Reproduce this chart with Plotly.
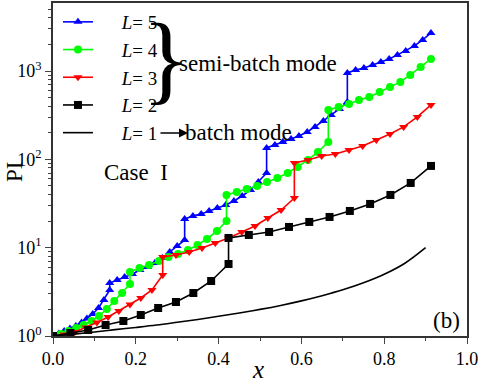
import plotly.graph_objects as go

# ---- data ----
x_L5 = [0, 0.014, 0.027, 0.041, 0.055, 0.069, 0.082, 0.096, 0.110, 0.123, 0.137,
        0.137, 0.155, 0.173, 0.192, 0.210, 0.228, 0.246, 0.264, 0.282, 0.300, 0.318,
        0.318, 0.338, 0.358, 0.377, 0.397, 0.417, 0.437, 0.457, 0.477, 0.496, 0.516,
        0.516, 0.536, 0.555, 0.575, 0.594, 0.614, 0.633, 0.653, 0.672, 0.692, 0.711,
        0.711, 0.731, 0.751, 0.772, 0.792, 0.812, 0.832, 0.852, 0.873, 0.893, 0.913]
y_L5 = [1.0, 1.067, 1.139, 1.216, 1.298, 1.422, 1.578, 1.775, 2.076, 2.56, 3.32,
        3.98, 4.31, 4.66, 5.04, 5.59, 6.05, 6.71, 7.65, 8.94, 10.45, 12.2,
        21.1, 22.9, 24.1, 26.0, 28.2, 30.5, 33.8, 38.5, 45.0, 55.5, 70.1,
        134.7, 145.6, 157.4, 170.0, 184.1, 204.3, 232.8, 272.2, 318.3, 372.2, 446.8,
        952, 1029, 1084, 1172, 1268, 1371, 1522, 1689, 1924, 2250, 2701]

x_L4 = [0, 0.019, 0.037, 0.056, 0.074, 0.093, 0.111, 0.130, 0.148, 0.167, 0.186,
        0.186, 0.209, 0.232, 0.256, 0.279, 0.302, 0.326, 0.349, 0.372, 0.396, 0.419,
        0.419, 0.444, 0.468, 0.493, 0.517, 0.542, 0.567, 0.591, 0.616, 0.640, 0.665,
        0.665, 0.690, 0.715, 0.739, 0.764, 0.789, 0.814, 0.839, 0.863, 0.888, 0.913]
y_L4 = [1.0, 1.053, 1.139, 1.232, 1.332, 1.479, 1.685, 2.022, 2.491, 3.069, 3.88,
        5.31, 5.89, 6.37, 7.07, 7.85, 8.49, 9.42, 10.73, 12.54, 15.46, 20.0,
        39.5, 42.7, 46.2, 50.0, 55.5, 61.6, 70.1, 82.0, 98.4, 121.2, 157.4,
        362.6, 392.1, 424.0, 470.7, 509.0, 580.0, 660.6, 752.7, 903.4, 1113, 1371]

x_L3 = [0, 0.0265, 0.053, 0.080, 0.106, 0.133, 0.159, 0.186, 0.212, 0.239, 0.265,
        0.265, 0.297, 0.329, 0.360, 0.392, 0.424, 0.456, 0.488, 0.519, 0.551, 0.583,
        0.583, 0.616, 0.649, 0.682, 0.715, 0.748, 0.781, 0.814, 0.847, 0.880, 0.913]
y_L3 = [1.0, 1.04, 1.11, 1.248, 1.422, 1.642, 1.919, 2.275, 2.694, 3.318, 4.907,
        7.85, 8.27, 8.94, 9.92, 11.3, 12.88, 15.06, 17.6, 21.7, 26.7, 36.5,
        91.0, 98.4, 109.3, 115.1, 127.8, 141.8, 165.9, 194.0, 232.8, 302.1, 413.1]

x_L2 = [0, 0.042, 0.085, 0.127, 0.170, 0.212, 0.254, 0.297, 0.339, 0.382, 0.424,
        0.424, 0.473, 0.522, 0.570, 0.619, 0.668, 0.717, 0.766, 0.815, 0.864, 0.913]
y_L2 = [1.0, 1.081, 1.169, 1.332, 1.479, 1.729, 2.076, 2.427, 3.069, 4.197, 6.538,
        12.88, 13.93, 15.06, 17.16, 19.55, 22.27, 26.04, 31.26, 39.52, 54.04, 84.2]

x_L1 = [0, 0.05, 0.10, 0.15, 0.20, 0.25, 0.30, 0.35, 0.40, 0.45,
        0.50, 0.55, 0.60, 0.65, 0.70, 0.75, 0.80, 0.85, 0.90]
y_L1 = [1.0, 1.05, 1.11, 1.18, 1.25, 1.33, 1.43, 1.54, 1.67, 1.82,
        2.0, 2.22, 2.5, 2.86, 3.33, 4.0, 5.0, 6.67, 10.0]

x_ticks = [0.0, 0.2, 0.4, 0.6, 0.8, 1.0]
x_ticklabels = ["0.0", "0.2", "0.4", "0.6", "0.8", "1.0"]
y_ticks = [1, 10, 100, 1000]
y_ticklabels = ["10<sup>0</sup>", "10<sup>1</sup>", "10<sup>2</sup>", "10<sup>3</sup>"]
y_minor = [2, 3, 4, 5, 6, 7, 8, 9, 20, 30, 40, 50, 60, 70, 80, 90,
           200, 300, 400, 500, 600, 700, 800, 900, 2000, 3000, 4000, 5000]

FONT = "Times New Roman, Liberation Serif, serif"
PAD = "\u00a0" * 5

L, T, W, H = 53, 3, 414, 333   # plot area in pixels

def px(xp):
    return (xp - L) / W

def py(yp):
    return (T + H - yp) / H

fig = go.Figure()
series = [
    (x_L5, y_L5, "5", "#0000FF", "triangle-up"),
    (x_L4, y_L4, "4", "#00FF00", "circle"),
    (x_L3, y_L3, "3", "#FF0000", "triangle-down"),
    (x_L2, y_L2, "2", "#000000", "square"),
]
for xs, ys, lv, col, sym in series:
    fig.add_trace(go.Scatter(x=xs, y=ys, name=PAD + "<i>L</i>= " + lv, mode="lines+markers",
                             line=dict(color=col, width=1.6),
                             marker=dict(symbol=sym, size=8, color=col)))
fig.add_trace(go.Scatter(x=x_L1, y=y_L1, name=PAD + "<i>L</i>= 1", mode="lines",
                         line=dict(color="#000000", width=1.6, shape="spline")))

fig.update_layout(
    width=480, height=382,
    margin=dict(l=L, r=480 - L - W, t=T, b=382 - T - H, autoexpand=False),
    paper_bgcolor="white", plot_bgcolor="white",
    font=dict(family=FONT, size=16, color="black"),
    showlegend=True,
    legend=dict(x=0.012, y=1.0, xanchor="left", yanchor="top",
                bgcolor="rgba(0,0,0,0)", font=dict(family=FONT, size=19),
                tracegroupgap=0),
    xaxis=dict(range=[0, 1], tickvals=x_ticks, ticktext=x_ticklabels, automargin=False,
               ticks="outside", ticklen=6, tickwidth=1, linecolor="#333", linewidth=1.5,
               mirror=True, showgrid=False, zeroline=False,
               minor=dict(tickvals=[0.1, 0.3, 0.5, 0.7, 0.9], ticks="outside", ticklen=3),
               tickfont=dict(family=FONT, size=18)),
    yaxis=dict(type="log", range=[0, 3.77], tickvals=y_ticks, ticktext=y_ticklabels,
               automargin=False,
               ticks="outside", ticklen=6, tickwidth=1, linecolor="#333", linewidth=1.5,
               mirror=True, showgrid=False, zeroline=False,
               minor=dict(tickvals=y_minor, ticks="outside", ticklen=3),
               tickfont=dict(family=FONT, size=18)),
)

# axis titles
fig.add_annotation(xref="paper", yref="paper", x=px(258), y=py(369),
                   text="<i>x</i>", showarrow=False, font=dict(family=FONT, size=25),
                   xanchor="center", yanchor="middle")
fig.add_annotation(xref="paper", yref="paper", x=px(14), y=py(172),
                   text="PI", showarrow=False, font=dict(family=FONT, size=23),
                   textangle=-90, xanchor="center", yanchor="middle")

fig.add_annotation(xref="paper", yref="paper", x=px(166), y=py(58),
                   text="}", showarrow=False, font=dict(family=FONT, size=100),
                   xanchor="center", yanchor="middle")
fig.add_annotation(xref="paper", yref="paper", x=px(177), y=py(64),
                   text="semi-batch mode", showarrow=False, font=dict(family=FONT, size=23),
                   xanchor="left", yanchor="middle")
fig.add_annotation(xref="paper", yref="paper", x=px(183), y=py(132),
                   text="batch mode", showarrow=False, font=dict(family=FONT, size=23),
                   xanchor="left", yanchor="middle")
fig.add_annotation(xref="paper", yref="paper",
                   x=px(188), y=py(133),
                   ax=-29, ay=0,
                   text="", showarrow=True, arrowhead=2, arrowsize=1.2, arrowwidth=1.5,
                   arrowcolor="black")
fig.add_annotation(xref="paper", yref="paper", x=px(136), y=py(172),
                   text="Case  I", showarrow=False, font=dict(family=FONT, size=23),
                   xanchor="center", yanchor="middle")
fig.add_annotation(xref="paper", yref="paper", x=px(446), y=py(320),
                   text="(b)", showarrow=False, font=dict(family=FONT, size=23),
                   xanchor="center", yanchor="middle")

fig.write_html("out.html", config={"displayModeBar": False},
               post_script="document.body.style.margin='0';document.body.style.padding='0';")
